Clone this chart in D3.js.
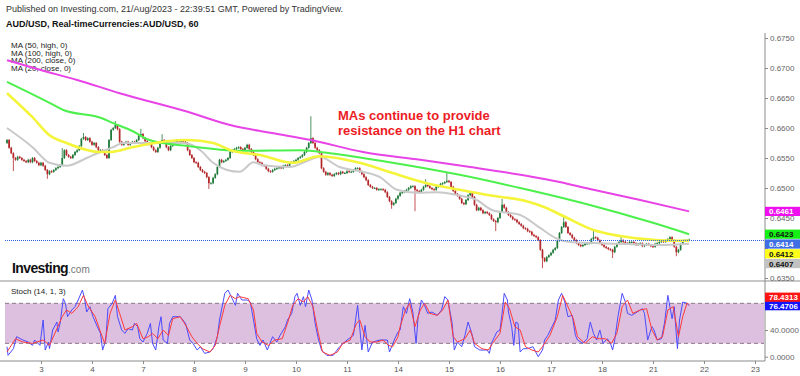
<!DOCTYPE html>
<html>
<head>
<meta charset="utf-8">
<script src="https://cdn.jsdelivr.net/npm/d3@7"></script>
<style>
  body { margin: 0; background: #fff; }
  svg { display: block; font-family: "Liberation Sans", Arial, sans-serif; }
</style>
</head>
<body>
<div id="chart"></div>
<script>
// AUD/USD hourly closes, in pips (0.0001), one per bar
const closes = [
  6580,6567,6558,6550,6547,6552,6550,6547,6545,6543,
  6547,6543,6550,6545,6542,6538,6542,6537,6530,6523,
  6528,6527,6530,6533,6535,6538,6550,6563,6555,6552,
  6550,6555,6560,6563,6570,6582,6585,6580,6583,6577,
  6572,6575,6568,6563,6563,6560,6555,6550,6580,6597,
  6600,6605,6598,6577,6572,6575,6577,6572,6575,6577,
  6575,6580,6588,6590,6583,6578,6573,6575,6568,6563,
  6560,6567,6575,6580,6577,6568,6563,6570,6575,6577,
  6580,6578,6578,6577,6575,6563,6555,6550,6543,6542,
  6535,6530,6527,6525,6518,6508,6508,6517,6523,6535,
  6547,6543,6545,6547,6550,6560,6563,6565,6567,6568,
  6565,6563,6567,6572,6565,6560,6555,6548,6543,6542,
  6538,6537,6532,6528,6527,6530,6532,6533,6535,6533,
  6537,6538,6537,6542,6543,6545,6547,6550,6552,6555,
  6560,6567,6575,6583,6575,6567,6563,6558,6533,6527,
  6522,6525,6522,6520,6523,6525,6523,6527,6525,6525,
  6528,6527,6527,6530,6533,6533,6527,6523,6518,6513,
  6505,6502,6500,6500,6497,6498,6498,6497,6493,6485,
  6478,6472,6475,6482,6487,6492,6493,6495,6497,6500,
  6503,6503,6497,6495,6493,6497,6502,6505,6503,6500,
  6498,6497,6502,6503,6507,6508,6510,6512,6510,6502,
  6495,6490,6487,6482,6475,6473,6480,6488,6492,6485,
  6472,6463,6467,6463,6458,6460,6458,6455,6448,6445,
  6443,6450,6460,6472,6467,6460,6455,6452,6448,6447,
  6443,6440,6437,6433,6432,6428,6427,6422,6420,6418,
  6413,6397,6383,6378,6385,6388,6392,6397,6400,6412,
  6425,6435,6443,6435,6425,6422,6417,6413,6408,6405,
  6403,6405,6407,6408,6408,6415,6418,6417,6413,6408,
  6405,6402,6400,6398,6397,6393,6402,6407,6410,6413,
  6410,6408,6407,6410,6410,6408,6405,6407,6408,6403,
  6405,6407,6405,6403,6402,6407,6408,6410,6412,6410,
  6413,6415,6418,6413,6402,6393,6397,6407,6412,6413,
  6413,6414
];
const firstOpen = 6575;

// notable wicks [bar, price]
const wickHighs = [[26,6565],[36,6590],[51,6610],[63,6597],[73,6588],[143,6618],[197,6513],[207,6525],[233,6480],[262,6450],[276,6430],[289,6418]];
const wickLows = [[3,6530],[19,6517],[95,6500],[181,6467],[192,6463],[230,6430],[252,6368],[285,6385],[315,6388]];

// moving averages [bar, pips]
const ma200 = [[0,6713],[15.5,6697],[33,6680],[53,6658],[85,6627],[105,6605],[124,6592],[143,6580],[167.5,6560],[194.5,6547],[218,6535],[245,6520],[260,6510],[276,6497],[298,6480],[321,6461]];
const ma100 = [[0,6677],[20,6642],[26.5,6630],[44,6617],[50,6608],[59,6595],[67,6580],[85,6570],[110,6562],[138,6563],[152,6558],[180,6543],[213,6522],[241.5,6500],[273,6473],[304,6442],[321,6423]];
const ma50 = [[0,6658],[12,6618],[20,6588],[28,6575],[44,6560],[48.5,6560],[59,6568],[75,6578],[85,6580],[97,6575],[106,6562],[119,6555],[134.5,6542],[147,6553],[166,6542],[181.5,6525],[197.5,6508],[213,6497],[228.5,6487],[244.5,6478],[253,6468],[262.5,6452],[276,6430],[288.5,6420],[307,6413],[321,6412]];
const ma20 = [[0,6600],[12,6568],[20,6542],[28,6537],[37.5,6550],[44,6560],[50,6568],[54.5,6575],[67,6575],[83,6575],[91,6563],[97,6542],[103.5,6530],[109.5,6527],[116,6543],[120.5,6538],[133,6535],[142.5,6547],[147,6552],[156.5,6535],[167.5,6527],[175.5,6518],[183.5,6497],[193,6492],[202.5,6493],[212,6488],[221,6480],[228.5,6463],[241.5,6455],[251,6433],[258,6417],[265,6410],[288.5,6407],[307,6405],[321,6407]];

// stochastic (14,1,3) [bar, value]
const stochK = [[0,15],[0.5,2],[3,12],[4.5,30],[7.5,25],[10,22],[12,17],[13,25],[15.5,17],[17,55],[18,10],[19.5,22],[20,12],[21.5,40],[23.5,52],[24,37],[25,50],[26.5,87],[27.5,80],[28.5,60],[30.5,70],[32,75],[33.5,85],[35.5,100],[36.5,87],[37.5,67],[39,75],[40.5,60],[42.5,45],[44,35],[45,10],[46.5,25],[47.5,72],[49.5,80],[51,92],[52,60],[54,40],[55.5,35],[57,42],[59,40],[60,50],[61.5,45],[62.5,27],[64,22],[66,35],[67.5,50],[68.5,20],[70,10],[71.5,45],[72.5,60],[73.5,25],[75.5,20],[76.5,50],[78,60],[81.5,60],[84,50],[86,25],[87.5,20],[89.5,10],[91,15],[93,5],[95.5,7],[97,12],[99,30],[100,55],[102.5,95],[104,100],[106,87],[107.5,77],[108.5,95],[110.5,85],[113,85],[114.5,82],[116,55],[117.5,27],[119,17],[120.5,25],[122.5,10],[124,22],[125,30],[127,22],[128.5,32],[131,45],[132,55],[134,65],[135.5,90],[136.5,95],[138,77],[139.5,90],[140.5,75],[142,100],[143.5,85],[145,50],[146.5,27],[148,10],[150.5,2],[153.5,2],[156.5,15],[160,25],[163,32],[165,77],[167,10],[168.5,47],[170,7],[172,22],[175.5,25],[179,25],[180,7],[182.5,27],[184,37],[185,40],[186.5,75],[188,65],[189.5,87],[191,67],[192.5,20],[193.5,60],[195,85],[196.5,77],[198,65],[200,67],[202.5,62],[204.5,70],[206,90],[207.5,85],[209.5,50],[210.5,10],[212,22],[214,15],[215.5,32],[217,52],[219,32],[220,15],[222.5,10],[226,10],[227,5],[228,20],[230.5,37],[232,40],[233,65],[234,95],[235.5,85],[236,67],[237.5,45],[238.5,17],[239.5,52],[240.5,50],[241.5,7],[243,12],[245,12],[247.5,15],[250,0],[252,10],[253,25],[254.5,32],[256.5,45],[258,55],[259.5,85],[261,95],[262.5,82],[264,60],[266,62],[267.5,32],[268.5,25],[271,20],[273,27],[274.5,52],[276,35],[277.5,25],[279,40],[280.5,20],[282.5,27],[284,20],[285,10],[286,25],[287.5,60],[289.5,95],[291,82],[292,65],[294,62],[296.5,67],[299,72],[300,65],[301.5,25],[303.5,45],[304.5,40],[306,25],[308,27],[309.5,52],[311,92],[313,57],[314,75],[315.5,12],[316.5,55],[318,82],[320,80],[321,76.4706]];
const stochD = [[0,7],[4,27],[7.5,22],[12,20],[17,25],[20,17],[23.5,42],[26,60],[28,70],[30.5,65],[33.5,75],[36,92],[38,77],[41.5,60],[44,37],[46,20],[48.5,65],[51,85],[53,65],[55.5,40],[59,45],[61,50],[64,27],[66.5,30],[68.5,35],[71,27],[73.5,40],[76,32],[78,57],[81.5,60],[84.5,45],[87,30],[89.5,20],[92,12],[95.5,7],[98,17],[100,45],[102.5,77],[105,92],[107.5,87],[109.5,90],[113.5,87],[116,70],[117.5,35],[120,22],[123,17],[126,25],[129.5,27],[132,50],[134.5,77],[137,87],[139.5,82],[141.5,90],[144,75],[146.5,35],[148.5,7],[152,2],[155.5,7],[158,20],[161.5,25],[164.5,50],[166,55],[168.5,30],[171,22],[174,22],[177,25],[179.5,17],[181.5,15],[184,30],[185,45],[187.5,70],[189.5,80],[192,45],[194.5,70],[196.5,80],[199,65],[202.5,62],[205,70],[207.5,85],[210,30],[212,22],[215.5,27],[218,40],[220,20],[223.5,12],[226.5,10],[228.5,20],[232,35],[234.5,82],[236.5,72],[239,45],[241.5,40],[244,15],[247,10],[250,7],[252,15],[255.5,32],[259,60],[261.5,92],[264,75],[266.5,57],[268.5,30],[272,20],[275.5,30],[278,27],[281.5,27],[284.5,20],[287,35],[289.5,75],[292,85],[294.5,65],[298,70],[301,72],[303.5,40],[306,25],[308.5,30],[311,70],[313.5,75],[316,30],[318,60],[320,80],[321,78.4313]];

// axis labels
const dayLabels = ["3","4","7","8","9","10","11","14","15","16","17","18","21","22","23"];
const firstDayBar = 16, barsPerDay = 24;
const priceTicks = [6350,6400,6450,6500,6550,6600,6650,6700,6750];
const stochTicks = [0,40,80];
const legend = ["MA (50, high, 0)","MA (100, high, 0)","MA (200, close, 0)","MA (20, close, 0)"];

const width = 800, height = 376;
const axisX = 765;

const svg = d3.select("#chart").append("svg")
  .attr("width", width)
  .attr("height", height);

// Scales
const x = d3.scaleLinear().domain([0, 321]).range([7, 689.1]);
const y = d3.scaleLinear().domain([6350, 6750]).range([278, 38]);
const ys = d3.scaleLinear().domain([0, 100]).range([356.7, 290]);

// Header
svg.append("text").attr("x", 6).attr("y", 12)
  .attr("font-size", 9).attr("fill", "#333")
  .text("Published on Investing.com, 21/Aug/2023 - 22:39:51 GMT, Powered by TradingView.");
svg.append("text").attr("x", 6).attr("y", 27)
  .attr("font-size", 9).attr("font-weight", "bold").attr("fill", "#111")
  .text("AUD/USD, Real-timeCurrencies:AUD/USD, 60");
svg.selectAll(".legend").data(legend).join("text")
  .attr("class", "legend")
  .attr("x", 11).attr("y", (d, i) => 48 + i * 7.7)
  .attr("font-size", 8).attr("fill", "#222")
  .text(d => d);

// Pane separators and axes lines
svg.append("line").attr("x1", 0).attr("x2", width).attr("y1", 281).attr("y2", 281)
  .attr("stroke", "#b4b4b4").attr("stroke-width", 1.5);
svg.append("line").attr("x1", axisX).attr("x2", axisX).attr("y1", 33).attr("y2", 361)
  .attr("stroke", "#8a8a8a");
svg.append("line").attr("x1", 0).attr("x2", axisX).attr("y1", 361).attr("y2", 361)
  .attr("stroke", "#8a8a8a");

const fmt4 = d3.format(".4f");
const lastClose = closes[closes.length - 1];

// Value labels on the right axis (laid out first so hidden tick texts can be skipped)
function stack(items, gap, dir) {
  items.forEach(d => { d.cy = d.y0; });
  if (dir > 0) {
    items.sort((a, b) => a.cy - b.cy);
    for (let k = 1; k < items.length; k++)
      items[k].cy = Math.max(items[k].cy, items[k - 1].cy + gap);
  } else {
    items.sort((a, b) => b.cy - a.cy);
    for (let k = 1; k < items.length; k++)
      items[k].cy = Math.min(items[k].cy, items[k - 1].cy - gap);
  }
  return items;
}
const priceLabels = stack([
  { v: ma200[ma200.length - 1][1], bg: "#ee11ee", fg: "#fff" },
  { v: ma100[ma100.length - 1][1], bg: "#16ef16", fg: "#111" },
  { v: lastClose, bg: "#3f6fe3", fg: "#fff" },
  { v: ma50[ma50.length - 1][1], bg: "#ffff1a", fg: "#111" },
  { v: ma20[ma20.length - 1][1], bg: "#c2c2c2", fg: "#111" }
].map(d => ({ ...d, y0: y(d.v), text: fmt4(d.v / 10000) })), 9.8, 1);
const stochLabels = stack([
  { v: stochD[stochD.length - 1][1], bg: "#ff1414", fg: "#fff" },
  { v: stochK[stochK.length - 1][1], bg: "#1414ff", fg: "#fff" }
].map(d => ({ ...d, y0: ys(d.v), text: fmt4(d.v) })), 8.5, -1);
const allLabels = priceLabels.concat(stochLabels);
const covered = py => allLabels.some(l => Math.abs(l.cy - py) < 5);

// Price axis
const yAxis = svg.append("g").attr("transform", `translate(${axisX},0)`)
  .call(d3.axisRight(y).tickValues(priceTicks).tickSize(3).tickPadding(2)
    .tickFormat(d => fmt4(d / 10000)));
yAxis.select(".domain").remove();
yAxis.selectAll("line").attr("stroke", "#8a8a8a");
yAxis.selectAll("text").attr("font-size", 8).attr("fill", "#666").attr("font-family", "Liberation Sans, Arial, sans-serif");
yAxis.selectAll(".tick").filter(d => covered(y(d))).select("text").remove();

// Stoch axis
const sAxis = svg.append("g").attr("transform", `translate(${axisX},0)`)
  .call(d3.axisRight(ys).tickValues(stochTicks).tickSize(3).tickPadding(2).tickFormat(fmt4));
sAxis.select(".domain").remove();
sAxis.selectAll("line").attr("stroke", "#8a8a8a");
sAxis.selectAll("text").attr("font-size", 8).attr("fill", "#666").attr("font-family", "Liberation Sans, Arial, sans-serif");
sAxis.selectAll(".tick").filter(d => covered(ys(d))).select("text").remove();

// Time axis
const xAxis = svg.append("g").attr("transform", "translate(0,361)")
  .call(d3.axisBottom(x).tickValues(dayLabels.map((d, k) => firstDayBar + barsPerDay * k))
    .tickSize(3).tickPadding(2).tickFormat((d, k) => dayLabels[k]));
xAxis.select(".domain").remove();
xAxis.selectAll("line").attr("stroke", "#8a8a8a");
xAxis.selectAll("text").attr("font-size", 8).attr("fill", "#555").attr("font-family", "Liberation Sans, Arial, sans-serif");

// Investing logo
const logo = svg.append("text").attr("x", 12).attr("y", 273);
logo.append("tspan").attr("font-size", 14).attr("font-weight", "bold").attr("fill", "#111")
  .attr("letter-spacing", -0.6).text("Investing");
logo.append("tspan").attr("font-size", 10).attr("fill", "#777").text(".com");

// Candles
const candles = closes.map((c, i) => {
  const o = i ? closes[i - 1] : firstOpen;
  return { i, o, c, h: Math.max(o, c), l: Math.min(o, c) };
});
wickHighs.forEach(([i, p]) => { candles[i].h = Math.max(candles[i].h, p); });
wickLows.forEach(([i, p]) => { candles[i].l = Math.min(candles[i].l, p); });

const up = "#1f7a3a", down = "#b3262a";
const cg = svg.append("g");
cg.selectAll(".wick").data(candles).join("line")
  .attr("class", "wick")
  .attr("x1", d => x(d.i)).attr("x2", d => x(d.i))
  .attr("y1", d => y(d.h) - 1).attr("y2", d => y(d.l) + 1)
  .attr("stroke", d => d.c >= d.o ? up : down).attr("stroke-width", 0.8);
cg.selectAll(".body").data(candles).join("rect")
  .attr("class", "body")
  .attr("x", d => x(d.i) - 0.85).attr("width", 1.7)
  .attr("y", d => y(Math.max(d.o, d.c)))
  .attr("height", d => Math.max(1, Math.abs(y(d.o) - y(d.c))))
  .attr("fill", d => d.c >= d.o ? up : down);

// Moving averages
const maLine = d3.line().x(d => x(d[0])).y(d => y(d[1])).curve(d3.curveMonotoneX);
const mas = [
  { data: ma20, color: "#c9c9c9", w: 2 },
  { data: ma200, color: "#e743e7", w: 2 },
  { data: ma100, color: "#4cf04c", w: 2 },
  { data: ma50, color: "#f4f43a", w: 2.6 }
];
svg.selectAll(".ma").data(mas).join("path")
  .attr("class", "ma")
  .attr("d", d => maLine(d.data))
  .attr("fill", "none")
  .attr("stroke", d => d.color)
  .attr("stroke-width", d => d.w);

// Last price line
svg.append("line").attr("x1", 5).attr("x2", axisX)
  .attr("y1", Math.round(y(lastClose)) + 0.5).attr("y2", Math.round(y(lastClose)) + 0.5)
  .attr("stroke", "#2f62e6").attr("stroke-width", 1).attr("stroke-dasharray", "1,1");

// Annotation
const note = svg.append("text").attr("font-size", 13).attr("font-weight", "bold").attr("fill", "#ed1c24");
note.append("tspan").attr("x", 338).attr("y", 120).text("MAs continue to provide");
note.append("tspan").attr("x", 338).attr("y", 135).text("resistance on the H1 chart");

// Stochastic pane
svg.append("rect").attr("x", 5).attr("width", axisX - 6)
  .attr("y", ys(80)).attr("height", ys(20) - ys(80))
  .attr("fill", "#ddbfdf");
svg.selectAll(".band").data([80, 20]).join("line")
  .attr("class", "band")
  .attr("x1", 5).attr("x2", axisX - 1)
  .attr("y1", d => ys(d)).attr("y2", d => ys(d))
  .attr("stroke", "#8a7a8a").attr("stroke-dasharray", "4,3");
const sLine = d3.line().x(d => x(d[0])).y(d => ys(d[1])).curve(d3.curveLinear);
svg.append("path").attr("d", sLine(stochK)).attr("fill", "none")
  .attr("stroke", "#4b4bff").attr("stroke-width", 1);
svg.append("path").attr("d", sLine(stochD)).attr("fill", "none")
  .attr("stroke", "#ff3a3a").attr("stroke-width", 1);
svg.append("text").attr("x", 11).attr("y", 294).attr("font-size", 8).attr("fill", "#222")
  .text("Stoch (14, 1, 3)");

const labels = svg.selectAll(".vlabel").data(allLabels).join("g")
  .attr("class", "vlabel")
  .attr("transform", d => `translate(${axisX},${d.cy})`);
labels.append("rect").attr("x", 0).attr("y", -4.6).attr("width", width - axisX).attr("height", 9.2)
  .attr("fill", d => d.bg);
labels.append("text").attr("x", 4).attr("y", 3)
  .attr("font-size", 8).attr("font-weight", "bold").attr("fill", d => d.fg)
  .text(d => d.text);
</script>
</body>
</html>
